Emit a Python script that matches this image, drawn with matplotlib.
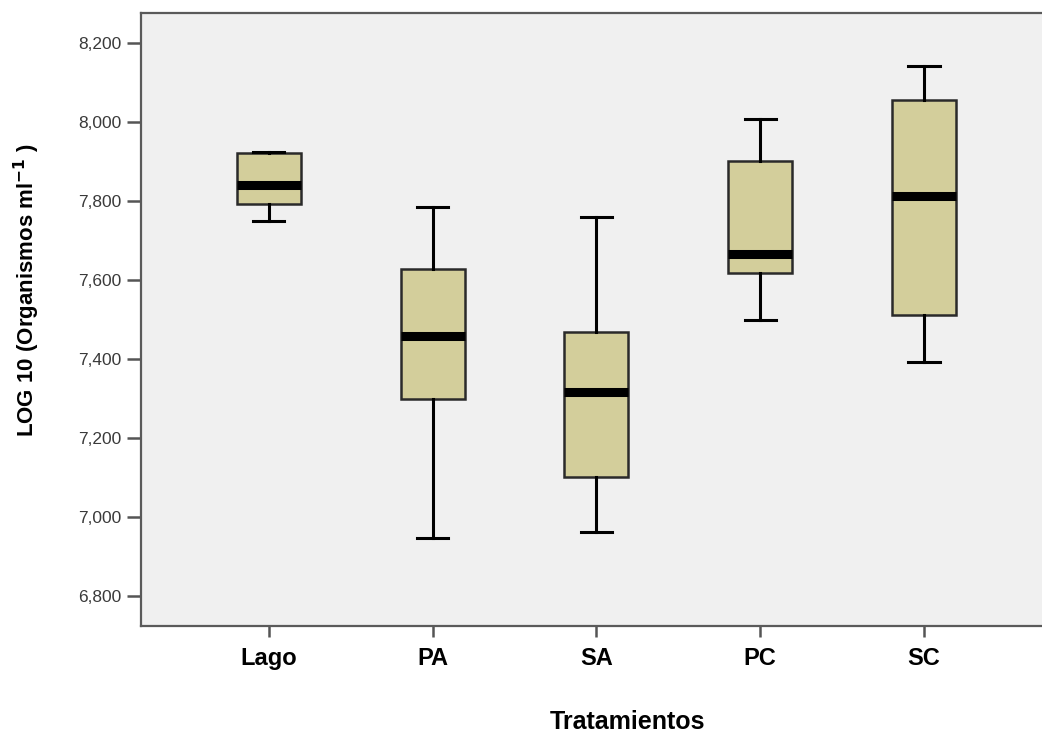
import matplotlib.pyplot as plt
from matplotlib.ticker import FuncFormatter

# five-number summaries (log10 organisms per ml)
tratamientos = ["Lago", "PA", "SA", "PC", "SC"]
whisker_low = [7.750, 6.948, 6.962, 7.499, 7.392]
q1 = [7.792, 7.298, 7.102, 7.617, 7.511]
medians = [7.840, 7.457, 7.316, 7.666, 7.813]
q3 = [7.921, 7.627, 7.469, 7.902, 8.056]
whisker_high = [7.925, 7.784, 7.759, 8.008, 8.141]
y_ticks = [6.8, 7.0, 7.2, 7.4, 7.6, 7.8, 8.0, 8.2]

plt.rcParams['font.family'] = ['Liberation Sans', 'DejaVu Sans']

stats = []
for i, name in enumerate(tratamientos):
    stats.append({'label': name, 'whislo': whisker_low[i], 'q1': q1[i],
                  'med': medians[i], 'q3': q3[i], 'whishi': whisker_high[i],
                  'fliers': []})

fig = plt.figure(figsize=(10.42, 7.35), dpi=100)
ax = fig.add_axes([141 / 1042, 1 - 626 / 735, 1 - 141 / 1042, (626 - 13) / 735])
ax.set_facecolor('#f0f0f0')

ax.bxp(stats, positions=range(len(tratamientos)), widths=0.39,
       patch_artist=True, showfliers=False,
       boxprops=dict(facecolor='#d3ce9b', edgecolor='#2a2a2a', linewidth=1.8),
       medianprops=dict(color='black', linewidth=6.5, solid_capstyle='butt'),
       whiskerprops=dict(color='black', linewidth=2.2),
       capprops=dict(color='black', linewidth=2.2),
       capwidths=0.19)

ax.set_xlim(-0.78, 4.72)
ax.set_ylim(6.724, 8.276)
ax.set_yticks(y_ticks)
ax.yaxis.set_major_formatter(FuncFormatter(lambda v, p: f"{v:.3f}".replace('.', ',')))

for s in ['top', 'left', 'bottom']:
    ax.spines[s].set_color('#5a5a5a')
    ax.spines[s].set_linewidth(1.6)
ax.spines['right'].set_visible(False)

ax.tick_params(axis='y', length=10, width=1.8, color='#555555',
               labelsize=12.5, labelcolor='#3a3a3a', pad=4)
ax.tick_params(axis='x', length=8, width=1.8, color='#555555', pad=7)
for lab in ax.get_xticklabels():
    lab.set_fontsize(17)
    lab.set_fontweight('bold')

fig.text(627 / 1042, 1 - 722 / 735, "Tratamientos", ha='center', va='center',
         fontsize=18, fontweight='bold')
fig.text(27 / 1042, 1 - 290 / 735, "LOG 10 (Organismos ml$^{\\mathbf{-1}}$ )",
         rotation=90, ha='center', va='center', fontsize=16, fontweight='bold')

fig.savefig('out.png', dpi=100, facecolor='white')
